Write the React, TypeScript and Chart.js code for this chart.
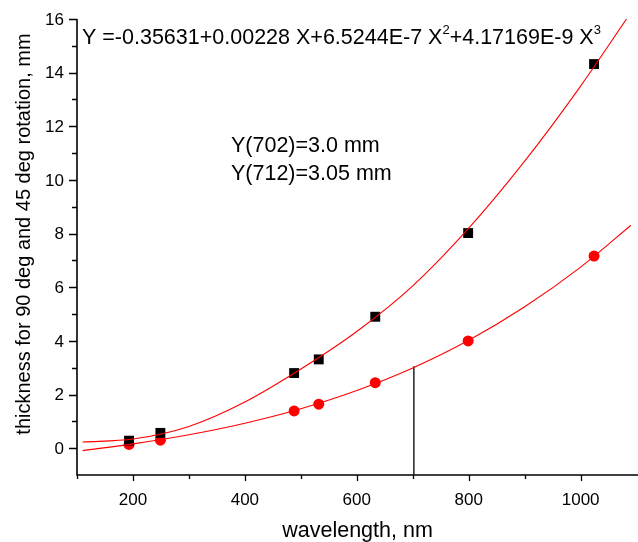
import React, { useEffect, useRef } from "react";
import { Chart, registerables } from "chart.js";

Chart.register(...registerables);

// Measured points
const wavelengths = [193, 249, 488, 532, 633, 799, 1024];
const thickness90 = [0.28, 0.57, 2.8, 3.31, 4.9, 8.02, 14.32];
const thickness45 = [0.14, 0.3, 1.39, 1.64, 2.44, 4.0, 7.16];

// Fit curves
const fit90X = [110, 200, 300, 400, 500, 600, 700, 800, 900, 1000, 1082];
const fit90Y = [0.23, 0.34, 0.81, 1.72, 2.95, 4.35, 6.05, 8.2, 10.7, 13.5, 16.0];
const fit45X = [110, 200, 300, 400, 500, 600, 700, 800, 900, 1000, 1090];
const fit45Y = [-0.09, 0.16, 0.5, 0.93, 1.47, 2.15, 2.99, 4.02, 5.27, 6.75, 8.31];

// Marker line at 702 nm
const markerX = [702, 702];
const markerY = [-1, 3.05];

// Axes
const xMin = 100;
const xMax = 1090;
const yMin = -1;
const yMax = 16;
const xTicks = [200, 400, 600, 800, 1000];
const xMinorTicks = [100, 300, 500, 700, 900];
const yTicks = [0, 2, 4, 6, 8, 10, 12, 14, 16];
const yMinorTicks = [1, 3, 5, 7, 9, 11, 13, 15];

const xTitle = "wavelength, nm";
const yTitle = "thickness for 90 deg and 45 deg rotation, mm";
const equationParts: [string, boolean][] = [
  ["Y =-0.35631+0.00228 X+6.5244E-7 X", false],
  ["2", true],
  ["+4.17169E-9 X", false],
  ["3", true],
];
const noteLines = ["Y(702)=3.0 mm", "Y(712)=3.05 mm"];

const FONT = '"Liberation Sans", Arial, sans-serif';

const pts = (xs: number[], ys: number[]) => xs.map((x, i) => ({ x, y: ys[i] }));

export default function App() {
  const ref = useRef<HTMLCanvasElement>(null);

  useEffect(() => {
    const canvas = ref.current!;
    const decor = {
      id: "decor",
      afterDraw(chart: any) {
        const ctx = chart.ctx as CanvasRenderingContext2D;
        const xs = chart.scales.x;
        const ys = chart.scales.y;
        const left = Math.round(xs.getPixelForValue(xMin));
        const bottom = Math.round(ys.getPixelForValue(yMin));
        const top = Math.round(ys.getPixelForValue(yMax));
        const right = chart.width;
        ctx.save();
        ctx.strokeStyle = "#000";
        ctx.fillStyle = "#000";
        ctx.lineWidth = 1.6;
        // axis lines
        ctx.beginPath();
        ctx.moveTo(left, top);
        ctx.lineTo(left, bottom);
        ctx.lineTo(right, bottom);
        ctx.stroke();
        ctx.lineWidth = 1.3;
        // ticks
        ctx.beginPath();
        xTicks.forEach((v) => {
          const p = Math.round(xs.getPixelForValue(v)) + 0.5;
          ctx.moveTo(p, bottom);
          ctx.lineTo(p, bottom + 6);
        });
        xMinorTicks.forEach((v) => {
          const p = Math.round(xs.getPixelForValue(v)) + 0.5;
          ctx.moveTo(p, bottom);
          ctx.lineTo(p, bottom + 4);
        });
        yTicks.forEach((v) => {
          const p = Math.round(ys.getPixelForValue(v)) + 0.5;
          ctx.moveTo(left, p);
          ctx.lineTo(left - 8, p);
        });
        yMinorTicks.forEach((v) => {
          const p = Math.round(ys.getPixelForValue(v)) + 0.5;
          ctx.moveTo(left, p);
          ctx.lineTo(left - 5, p);
        });
        ctx.stroke();

        // tick labels
        ctx.font = `17px ${FONT}`;
        ctx.textAlign = "right";
        ctx.textBaseline = "middle";
        yTicks.forEach((v) => {
          ctx.fillText(String(v), left - 13, ys.getPixelForValue(v) + 1);
        });
        ctx.textAlign = "center";
        ctx.textBaseline = "alphabetic";
        xTicks.forEach((v) => {
          ctx.fillText(String(v), xs.getPixelForValue(v), 505);
        });

        // axis titles
        ctx.font = `21.5px ${FONT}`;
        ctx.textAlign = "center";
        ctx.fillText(xTitle, (left + right) / 2, 537);
        ctx.save();
        ctx.translate(30, 234);
        ctx.rotate(-Math.PI / 2);
        ctx.font = `20px ${FONT}`;
        ctx.fillText(yTitle, 0, 0);
        ctx.restore();

        // equation
        ctx.textAlign = "left";
        let x = 82;
        const base = 44;
        equationParts.forEach(([t, sup]) => {
          ctx.font = sup ? `13px ${FONT}` : `21.5px ${FONT}`;
          ctx.fillText(t, x, sup ? base - 10 : base);
          x += ctx.measureText(t).width;
        });

        // notes
        ctx.font = `21.5px ${FONT}`;
        noteLines.forEach((t, i) => {
          ctx.fillText(t, 231, 152 + i * 28);
        });
        ctx.restore();
      },
    };

    const chart = new Chart(canvas, {
      type: "scatter",
      data: {
        datasets: [
          {
            data: pts(fit90X, fit90Y),
            showLine: true,
            borderColor: "#ff0000",
            borderWidth: 1.1,
            pointRadius: 0,
            cubicInterpolationMode: "monotone",
          },
          {
            data: pts(fit45X, fit45Y),
            showLine: true,
            borderColor: "#ff0000",
            borderWidth: 1.1,
            pointRadius: 0,
            cubicInterpolationMode: "monotone",
          },
          {
            data: pts(markerX, markerY),
            showLine: true,
            borderColor: "#000",
            borderWidth: 1.3,
            pointRadius: 0,
          },
          {
            data: pts(wavelengths, thickness90),
            showLine: false,
            pointStyle: "rect",
            pointRadius: 7,
            backgroundColor: "#000",
            borderColor: "#000",
            borderWidth: 0,
          },
          {
            data: pts(wavelengths, thickness45),
            showLine: false,
            pointStyle: "circle",
            pointRadius: 5.5,
            backgroundColor: "#ff0000",
            borderColor: "#ff0000",
            borderWidth: 0,
          },
        ],
      },
      options: {
        responsive: false,
        animation: false,
        events: [],
        layout: { padding: { left: 0, top: 19, right: 0, bottom: 0 } },
        plugins: {
          legend: { display: false },
          tooltip: { enabled: false },
          title: { display: false },
        },
        scales: {
          x: {
            type: "linear",
            min: xMin,
            max: xMax,
            grid: { display: false },
            border: { display: false },
            ticks: { display: false },
            afterFit: (s: any) => {
              s.height = 67;
            },
          },
          y: {
            type: "linear",
            min: yMin,
            max: yMax,
            grid: { display: false },
            border: { display: false },
            ticks: { display: false },
            afterFit: (s: any) => {
              s.width = 77;
            },
          },
        },
      },
      plugins: [decor],
    });
    return () => chart.destroy();
  }, []);

  return (
    <div style={{ position: "fixed", left: 0, top: 0, width: 638, height: 542, background: "#fff" }}>
      <canvas ref={ref} width={638} height={542} style={{ display: "block" }} />
    </div>
  );
}
